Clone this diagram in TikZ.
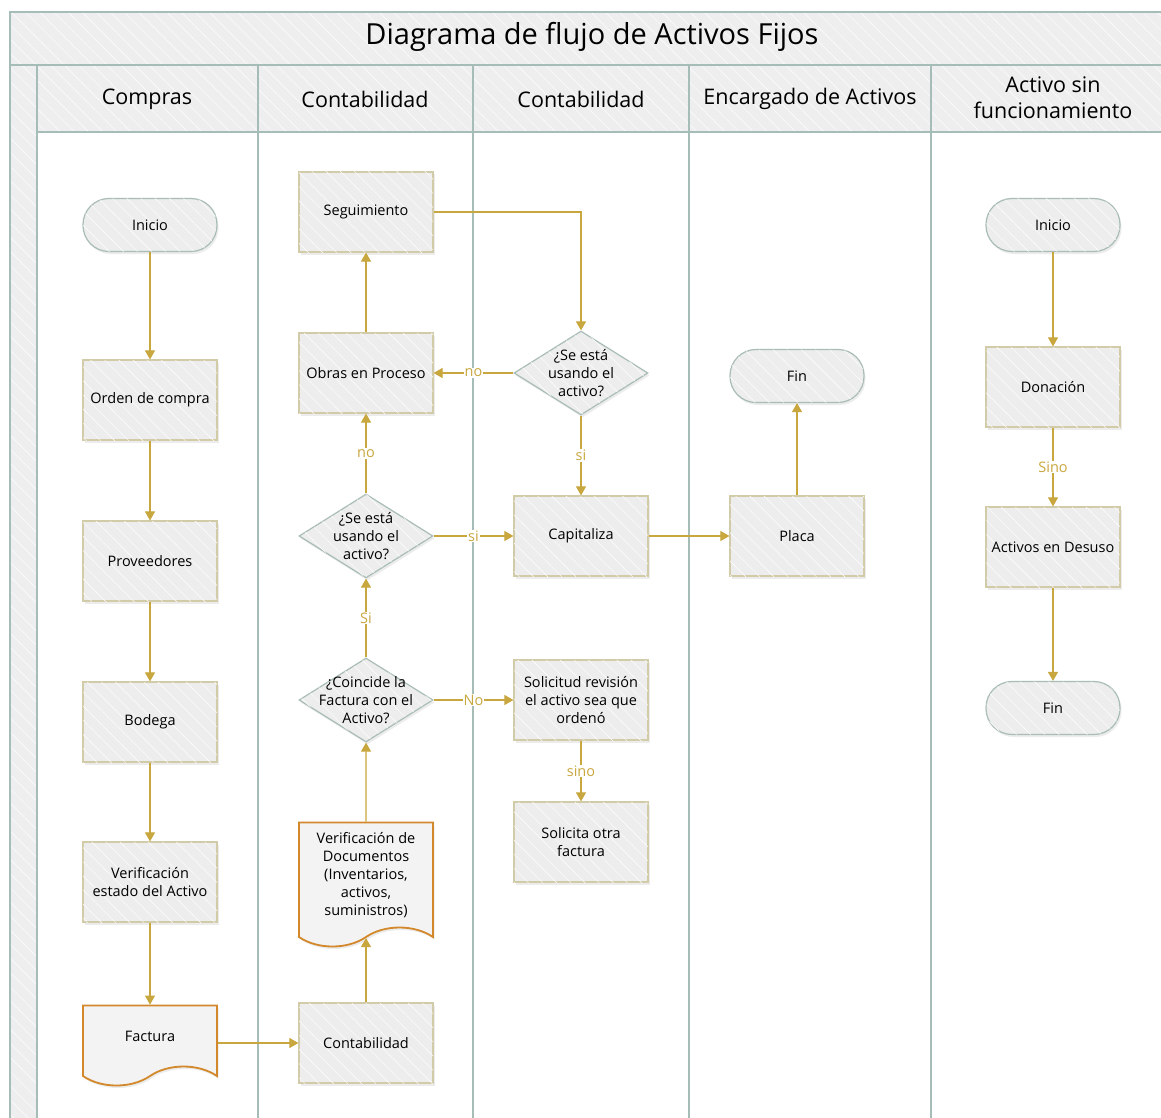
\documentclass[tikz,border=0pt]{standalone}
\usepackage{fontspec}
\setmainfont{Open Sans}
\usetikzlibrary{arrows.meta,shapes.geometric,shapes.symbols,patterns.meta,shadows}

\definecolor{gold}{HTML}{C8A73E}
\definecolor{boxline}{HTML}{D2CBA8}
\definecolor{termline}{HTML}{A9BDB6}
\definecolor{docline}{HTML}{D3892B}
\definecolor{boxfill}{HTML}{EDEDED}
\definecolor{docfill}{HTML}{F3F3F3}
\definecolor{laneline}{HTML}{A6BCB6}
\definecolor{headfill}{HTML}{EEEEEE}

\begin{document}
\begin{tikzpicture}[x=1pt,y=-1pt,
  every node/.style={font=\fontsize{14.5}{18}\selectfont},
  hatch/.style={postaction={pattern={Lines[angle=-45,distance=10pt,line width=.45pt]},pattern color=white}},
  shade/.style={drop shadow={shadow xshift=1.5pt,shadow yshift=-2.5pt,opacity=.15}},
  proc/.style={rectangle, draw=boxline, line width=1.2pt, fill=boxfill, hatch, shade,
    minimum width=134pt, minimum height=80pt, align=center},
  term/.style={proc, draw=termline, rounded corners=26pt, minimum height=53pt},
  decision/.style={diamond, draw=termline, line width=1.2pt, fill=boxfill, hatch, shade,
    minimum width=134pt, minimum height=84pt, inner sep=0pt},
  dtext/.style={align=center, font=\fontsize{14.5}{18}\selectfont},
  doc/.style={tape, tape bend top=none, tape bend bottom=in and out, tape bend height=19pt,
    draw=docline, line width=1.8pt, fill=docfill, shade, minimum width=134pt, align=center},
  head/.style={align=center, font=\fontsize{21.5}{26}\selectfont},
  flow/.style={draw=gold, line width=1.1pt, -{Triangle[width=10pt,length=9pt]}},
  lbl/.style={fill=white, text=gold, inner sep=1pt},
  lane/.style={draw=laneline, line width=1.5pt}
]
\clip (0,0) rectangle (1161,1118);
\fill[white] (0,0) rectangle (1161,1118);

% pool and lanes
\fill[headfill, hatch] (10,12) rectangle (1175,132);
\fill[headfill, hatch] (10,132) rectangle (37,1130);
\draw[lane] (10,12) rectangle (1175,1130);
\draw[lane] (10,65) -- (1175,65);
\draw[lane] (37,132) -- (1175,132);
\foreach \x in {37,258,473,689,931}
  \draw[lane] (\x,65) -- (\x,1130);

\node[font=\fontsize{29}{32}\selectfont] (title) at (592,37) {Diagrama de flujo de Activos Fijos};
\node[head] (hcompras) at (147,99) {Compras};
\node[head] (hconta) at (365,99) {Contabilidad};
\node[head] (hcontb) at (581,99) {Contabilidad};
\node[head] (hencar) at (810,99) {Encargado de Activos};
\node[head] (hsin) at (1053,98) {Activo sin\\funcionamiento};

% Compras
\node[term] (inicio) at (150,225) {Inicio};
\node[proc] (orden) at (150,400) {Orden de compra};
\node[proc] (prov) at (150,561) {Proveedores};
\node[proc] (bodega) at (150,722) {Bodega};
\node[proc] (verif) at (150,882) {Verificación\\estado del Activo};
\node[doc, minimum height=80pt] (factura) at (150,1036) {Factura};

% Contabilidad
\node[proc] (seg) at (366,212) {Seguimiento};
\node[proc] (obras) at (366,373) {Obras en Proceso};
\node[decision, label={[dtext]center:{¿Se está\\usando el\\activo?}}] (usa) at (366,536) {};
\node[decision, label={[dtext]center:{¿Coincide la\\Factura con el\\Activo?}}] (coin) at (366,700) {};
\node[doc, minimum height=124pt] (vdoc) at (366,875) {Verificación de\\Documentos\\(Inventarios,\\activos,\\suministros)};
\node[proc] (conta) at (366,1043) {Contabilidad};

% Contabilidad
\node[decision, label={[dtext]center:{¿Se está\\usando el\\activo?}}] (usb) at (581,373) {};
\node[proc] (capi) at (581,536) {Capitaliza};
\node[proc] (solrev) at (581,700) {Solicitud revisión\\el activo sea que\\ordenó};
\node[proc] (solfac) at (581,842) {Solicita otra\\factura};

% Encargado de Activos
\node[term] (fin) at (797,376) {Fin};
\node[proc] (placa) at (797,536) {Placa};

% Activo sin funcionamiento
\node[term] (inicio2) at (1053,225) {Inicio};
\node[proc] (donac) at (1053,387) {Donación};
\node[proc] (desuso) at (1053,547) {Activos en Desuso};
\node[term] (fin2) at (1053,708) {Fin};

% connectors
\draw[flow] (inicio) -- (orden);
\draw[flow] (orden) -- (prov);
\draw[flow] (prov) -- (bodega);
\draw[flow] (bodega) -- (verif);
\draw[flow] (verif) -- (factura);
\draw[flow] (factura.east |- conta.west) -- (conta);
\draw[flow] (conta) -- (vdoc);
\draw[flow] (vdoc) -- (coin);
\draw[flow] (coin) -- node[lbl]{Si} (usa);
\draw[flow] (coin) -- node[lbl]{No} (solrev);
\draw[flow] (solrev) -- node[lbl]{sino} (solfac);
\draw[flow] (usa) -- node[lbl]{no} (obras);
\draw[flow] (usa) -- node[lbl]{si} (capi);
\draw[flow] (obras) -- (seg);
\draw[flow] (seg.east) -| (usb.north);
\draw[flow] (usb) -- node[lbl]{no} (obras);
\draw[flow] (usb) -- node[lbl]{si} (capi);
\draw[flow] (capi) -- (placa);
\draw[flow] (placa) -- (fin);
\draw[flow] (inicio2) -- (donac);
\draw[flow] (donac) -- node[lbl]{Sino} (desuso);
\draw[flow] (desuso) -- (fin2);
\end{tikzpicture}
\end{document}
